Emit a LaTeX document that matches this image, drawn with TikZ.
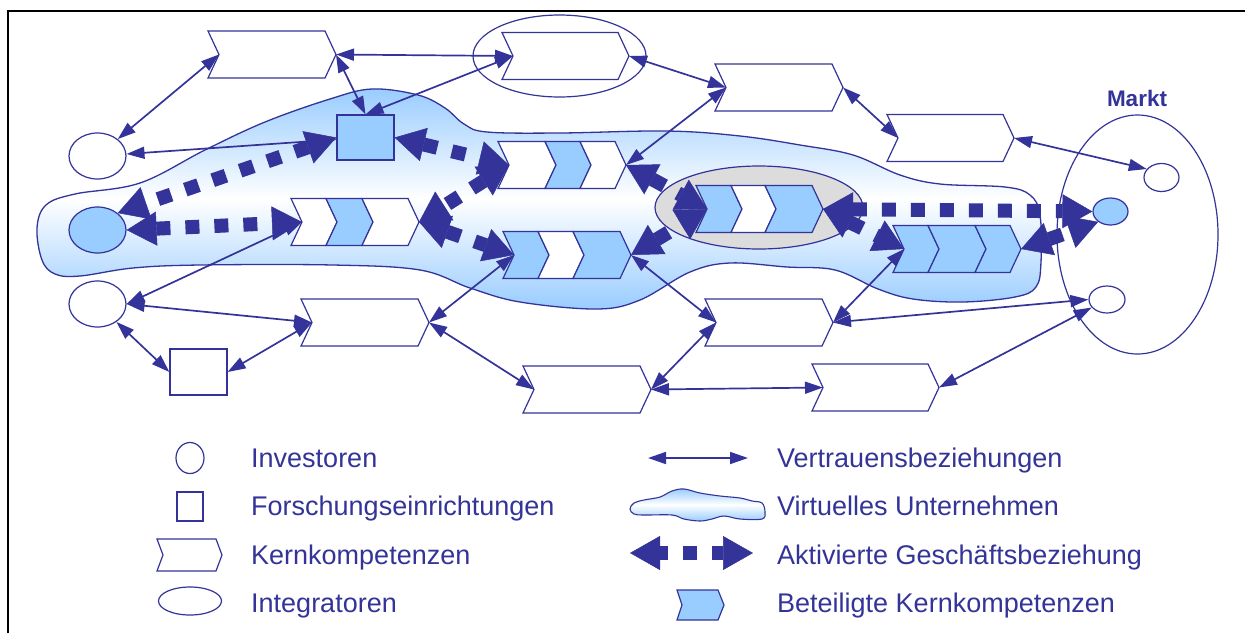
\documentclass[tikz,border=0pt]{standalone}
\usepackage{fontspec}
\setmainfont{Liberation Sans}
\usetikzlibrary{arrows.meta,shapes.geometric}
\definecolor{dblue}{HTML}{333399}
\definecolor{lblue}{HTML}{99CCFF}
\definecolor{lgray}{HTML}{DCDCDC}

% one chevron segment: left x, right x (top corners), centre y, fill
\newcommand\KSeg[4]{%
  \filldraw[kernline,fill=#4] (#1,#3-23.5) -- (#2,#3-23.5) -- (#2+11,#3)
    -- (#2,#3+23.5) -- (#1,#3+23.5) -- (#1+11,#3) -- cycle;}
% single core competence: name, left x, right x, centre y, fill
\newcommand\KSingle[5]{%
  \KSeg{#2}{#3}{#4}{#5}
  \coordinate (#1-in) at (#2+11,#4);
  \coordinate (#1-out) at (#3+11,#4);}
% chain of three segments: name, x0, x1, x2, x3, centre y, fills
\newcommand\KRow[9]{%
  \KSeg{#2}{#3}{#6}{#7}
  \KSeg{#3}{#4}{#6}{#8}
  \KSeg{#4}{#5}{#6}{#9}
  \coordinate (#1-in) at (#2+11,#6);
  \coordinate (#1-out) at (#5+11,#6);}

\begin{document}
\begin{tikzpicture}[x=1pt,y=-1pt,
  outl/.style={draw=dblue, line width=1.2pt},
  kernline/.style={draw=dblue, line width=1.2pt, line join=miter},
  inv/.style={ellipse, outl, fill=white, inner sep=0pt, minimum width=57pt, minimum height=46pt},
  mkt/.style={ellipse, outl, fill=white, inner sep=0pt, minimum width=35pt, minimum height=28pt},
  lab/.style={rectangle, outl, inner sep=0pt, minimum width=57pt, minimum height=45pt},
  cloudfill/.style={draw=dblue, line width=1.3pt, top color=lblue, bottom color=lblue, middle color=white},
  trust/.style={draw=dblue, line width=1.7pt, <->, >={Triangle[length=18pt,width=12pt]}},
  active/.style={draw=dblue, line width=14pt, dash pattern=on 14pt off 15pt, <->,
                 >={Triangle[length=30pt,width=34pt,line width=0.5pt]}},
  legtext/.style={anchor=base west, text=dblue, inner sep=0pt, font=\fontsize{27}{30}\selectfont},
]
\useasboundingbox (0,0) rectangle (1245,633);

% frame
\draw[line width=2.5pt, line join=miter] (8,633) -- (8,11) -- (1245,11);

% virtual enterprise
\path[cloudfill] plot[smooth cycle, tension=0.6] coordinates {
  (37,228) (46,205) (75,194) (140,183) (205,150) (265,122) (330,99) (372,89)
  (418,95) (445,108) (464,124) (487,132) (560,133) (667,131) (740,136) (800,145)
  (853,155) (900,175) (940,184) (1005,187) (1030,195) (1040,215) (1041,262)
  (1036,287) (1015,297) (963,302) (913,299) (878,289) (835,270) (787,267)
  (730,263) (690,272) (640,300) (597,309) (520,302) (470,288) (420,270)
  (333,265) (200,265) (133,268) (80,276) (55,274) (42,260)};

% integrators
\node[ellipse, outl, fill=lgray, inner sep=0pt, minimum width=208pt, minimum height=83pt] (integB) at (759,207.5) {};
\node[ellipse, outl, inner sep=0pt, minimum width=173pt, minimum height=82pt] (integA) at (559.5,56) {};

% market
\node[ellipse, outl, inner sep=0pt, minimum width=161pt, minimum height=239pt] (markt) at (1137.5,234.5) {};
\node[anchor=base, text=dblue, inner sep=0pt, font=\bfseries\fontsize{22.5}{26}\selectfont] (marktlbl) at (1137,106) {Markt};
\node[mkt] (m1) at (1161.5,177.5) {};
\node[mkt, fill=lblue, minimum height=27pt] (m2) at (1110.5,211.5) {};
\node[mkt, minimum width=36pt, minimum height=27pt] (m3) at (1107,299.5) {};

% core competences
\KSingle{c1}{208}{325}{54.5}{white}
\KSingle{c2}{502}{618}{56}{white}
\KSingle{c3}{715}{832}{87.5}{white}
\KSingle{c4}{887}{1003}{138}{white}
\KSingle{c5}{301}{418}{322.5}{white}
\KSingle{c6}{705}{822}{322.5}{white}
\KSingle{c7}{523}{640}{389.5}{white}
\KSingle{c8}{812}{928}{387.5}{white}
\KRow{ra}{498}{545}{580}{615}{165}{white}{lblue}{white}
\KRow{rb}{291}{326}{362}{408}{222}{white}{lblue}{white}
\KRow{rc}{503}{538}{573}{620}{255}{lblue}{white}{lblue}
\KRow{rd}{696}{731}{765}{812}{209}{lblue}{white}{lblue}
\KRow{re}{893}{928}{975}{1010}{249}{lblue}{lblue}{lblue}

% investors and research institutes
\node[inv] (i1) at (97.5,156) {};
\node[inv, fill=lblue] (i2) at (97.5,230) {};
\node[inv] (i3) at (97.5,304) {};
\node[lab, fill=lblue] (s1) at (365.5,137.5) {};
\node[lab, fill=white, minimum height=46pt] (s2) at (198.5,372) {};

% relations of trust
\draw[trust] (c1-in) -- (i1);
\draw[trust] (c1-out) -- (c2-in);
\draw[trust] (c1-out) -- (s1.north);
\draw[trust] (c2-in) -- (s1.north);
\draw[trust] (i1) -- (s1);
\draw[trust] (c2-out) -- (c3-in);
\draw[trust] (c3-in) -- (ra-out);
\draw[trust] (c3-out) -- (c4-in);
\draw[trust] (c4-out) -- (m1.150);
\draw[trust] (rb-in) -- (i3.east);
\draw[trust] (i3.east) -- (c5-in);
\draw[trust] (i3) -- (s2.west);
\draw[trust] (s2.east) -- (c5-in);
\draw[trust] (c5-out) -- (rc-in);
\draw[trust] (c5-out) -- (c7-in);
\draw[trust] (rc-out) -- (c6-in);
\draw[trust] (c6-in) -- (c7-out);
\draw[trust] (c7-out) -- (c8-in);
\draw[trust] (c6-out) -- (re-in);
\draw[trust] (c6-out) -- (m3.west);
\draw[trust] (c8-out) -- (m3);

% activated business relations
\draw[active] (s1.west) -- (i2.40);
\draw[active] (i2.east) -- (rb-in);
\draw[active] (s1.east) -- (ra-in);
\draw[active] (ra-in) -- (rb-out);
\draw[active] (rb-out) -- (rc-in);
\draw[active] (ra-out) -- (rd-in);
\draw[active] (rc-out) -- (rd-in);
\draw[active] (rd-out) -- (m2.west);
\draw[active] (re-out) -- (m2.220);
\draw[active] (rd-out) -- (re-in);

% legend, left column
\node[ellipse, outl, inner sep=0pt, minimum width=28pt, minimum height=31pt] (lgInv) at (190,458) {};
\node[rectangle, outl, inner sep=0pt, minimum width=26pt, minimum height=29pt] (lgFor) at (190,506.5) {};
\filldraw[kernline, fill=white] (157,539) -- (216,539) -- (222,555) -- (216,571) -- (157,571) -- (163,555) -- cycle;
\node[ellipse, outl, inner sep=0pt, minimum width=63pt, minimum height=28pt] (lgInt) at (190,601) {};
\node[legtext] (tInv) at (251,467) {Investoren};
\node[legtext] (tFor) at (251,515) {Forschungseinrichtungen};
\node[legtext] (tKern) at (251,564) {Kernkompetenzen};
\node[legtext] (tInt) at (251,612) {Integratoren};

% legend, right column
\coordinate (lgTa) at (648,458);
\coordinate (lgTb) at (748,458);
\draw[trust] (lgTa) -- (lgTb);
\path[cloudfill, line width=1.1pt] plot[smooth cycle, tension=0.6] coordinates {
  (630,509) (634,503) (644,500) (660,497) (672,491) (684,489) (700,493) (720,496)
  (740,498) (752,501) (762,503) (765,512) (762,519) (740,519) (724,516) (712,519)
  (700,521) (684,519) (672,515) (644,515) (634,514)};
\coordinate (lgAa) at (630,553);
\coordinate (lgAb) at (753,553);
\draw[active, dash phase=6pt] (lgAa) -- (lgAb);
\filldraw[kernline, fill=lblue] (677,590) -- (718,590) -- (724,605) -- (718,620) -- (677,620) -- (682,605) -- cycle;
\node[legtext] (tVer) at (777,467) {Vertrauensbeziehungen};
\node[legtext] (tVir) at (777,515) {Virtuelles Unternehmen};
\node[legtext] (tAkt) at (777,564) {Aktivierte Geschäftsbeziehung};
\node[legtext] (tBet) at (777,612) {Beteiligte Kernkompetenzen};
\end{tikzpicture}
\end{document}
